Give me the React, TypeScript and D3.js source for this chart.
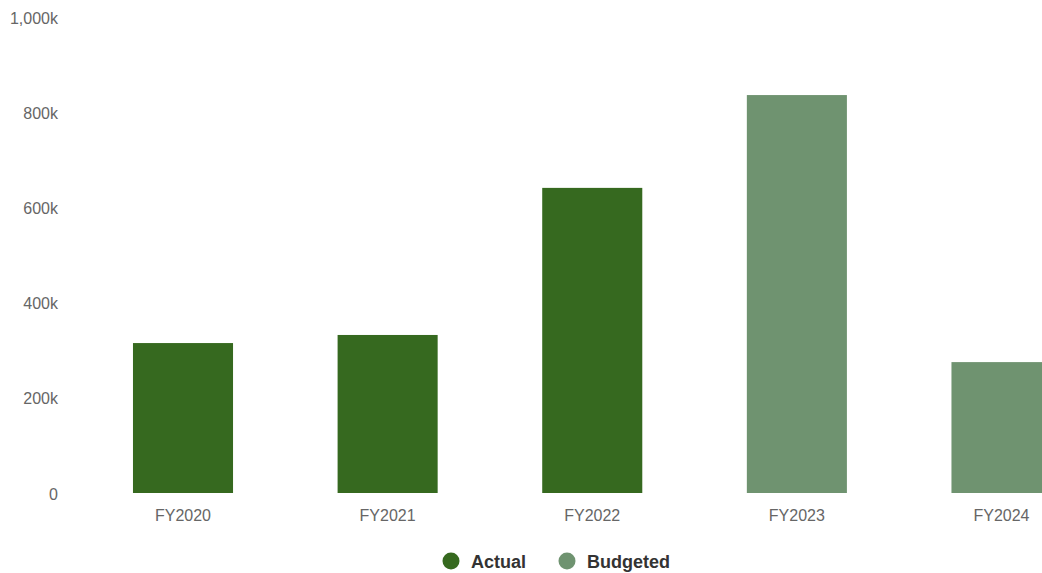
import React, { useEffect, useRef } from "react";
import * as d3 from "d3";

const categories = ["FY2020", "FY2021", "FY2022", "FY2023", "FY2024"];
const values = [315000, 332000, 641000, 836000, 275000];
const seriesOf = ["Actual", "Actual", "Actual", "Budgeted", "Budgeted"];
const seriesNames = ["Actual", "Budgeted"];
const seriesColors = ["#36691f", "#6f9370"];
const yTicks = [0, 200000, 400000, 600000, 800000, 1000000];

const W = 1042;
const H = 573;

export default function App() {
  const ref = useRef<SVGSVGElement>(null);
  useEffect(() => {
    const svg = d3.select(ref.current);
    svg.selectAll("*").remove();
    const x = d3.scaleBand<string>().domain(categories).range([81, 1103.5]).paddingInner(0.511).paddingOuter(0.254);
    const y = d3.scaleLinear().domain([0, 1000000]).range([493, 17]);
    const color = d3.scaleOrdinal<string, string>().domain(seriesNames).range(seriesColors);
    const fmt = (v: number) => (v === 0 ? "0" : d3.format(",")(v / 1000) + "k");

    const font = "'Liberation Sans', Arial, Helvetica, sans-serif";

    svg.append("g").selectAll("text").data(yTicks).join("text")
      .attr("x", 58).attr("y", (d) => y(d) + 1).attr("dy", "0.35em")
      .attr("text-anchor", "end").attr("fill", "#666").attr("font-size", 16)
      .attr("font-family", font).text(fmt);

    svg.append("g").selectAll("rect").data(categories).join("rect")
      .attr("x", (d) => x(d)!).attr("width", x.bandwidth())
      .attr("y", (d, i) => y(values[i])).attr("height", (d, i) => y(0) - y(values[i]))
      .attr("fill", (d, i) => color(seriesOf[i]));

    svg.append("g").selectAll("text").data(categories).join("text")
      .attr("x", (d) => x(d)! + x.bandwidth() / 2).attr("y", 521)
      .attr("text-anchor", "middle").attr("fill", "#666").attr("font-size", 16)
      .attr("font-family", font).text((d) => d);

    const legendX = [451, 567];
    const lg = svg.append("g").selectAll("g").data(seriesNames).join("g")
      .attr("transform", (d, i) => `translate(${legendX[i]},561)`);
    lg.append("circle").attr("r", 8.5).attr("fill", (d) => color(d));
    lg.append("text").attr("x", 20).attr("y", 1).attr("dy", "0.35em").attr("fill", "#333")
      .attr("font-size", 18).attr("font-weight", "bold").attr("font-family", font)
      .text((d) => d);
  }, []);
  return (
    <svg ref={ref} width={W} height={H} style={{ position: "absolute", left: 0, top: 0, background: "#fff" }} />
  );
}
